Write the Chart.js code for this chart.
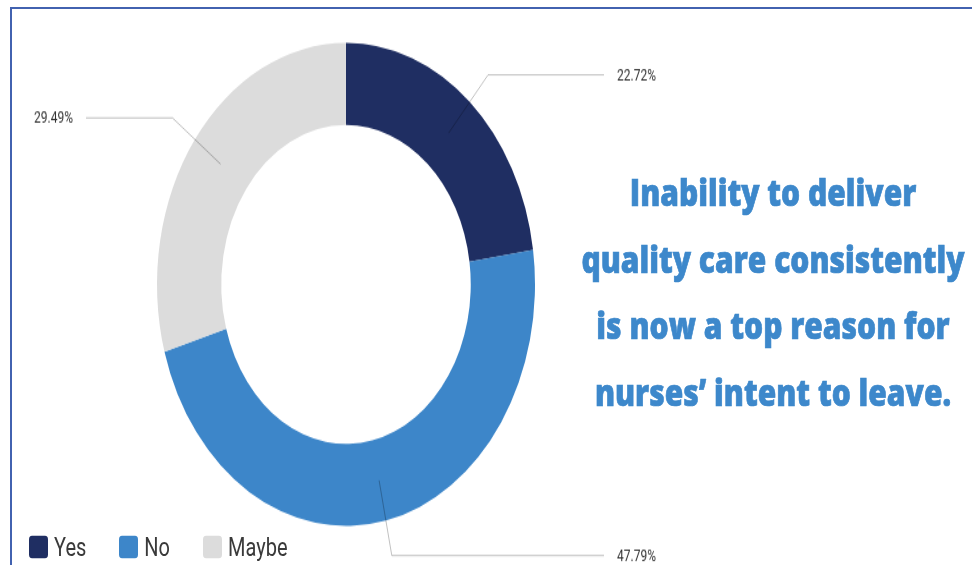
<!DOCTYPE html>
<html>
<head>
<meta charset="utf-8">
<script src="https://cdn.jsdelivr.net/npm/chart.js@4"></script>
<style>
  html, body { margin: 0; padding: 0; background: #fff; }
  body { width: 972px; height: 565px; position: relative; overflow: hidden; font-family: Roboto, sans-serif; }
  #frame { position: absolute; left: 10px; top: 7px; width: 970px; height: 570px;
           border-top: 2px solid #4262b0; border-left: 2px solid #4262b0; }
  #chartBox { position: absolute; left: 0; top: 0; width: 972px; height: 442px;
              transform: scaleY(1.278); transform-origin: 0 0; }
  #legend { position: absolute; left: 29px; top: 536px; height: 22px; display: flex; align-items: center;
            transform: scaleY(1.25); transform-origin: 0 50%; }
  .item { display: flex; align-items: center; margin-right: 33px; font-size: 20px; color: #3a3a3a; }
  .box { width: 19px; height: 18px; border-radius: 3px; margin-right: 6px; }
  #note { position: absolute; left: 573px; top: 159px; width: 400px; text-align: center;
          font-family: "Open Sans", sans-serif; font-weight: 800; font-size: 30px; line-height: 53.6px;
          color: #3d88cb; -webkit-text-stroke: 0.6px #3d88cb;
          transform: scaleY(1.24); transform-origin: 0 0; }
</style>
</head>
<body>
<div id="frame"></div>
<div id="chartBox"><canvas id="myChart"></canvas></div>
<div id="legend"></div>
<div id="note"></div>
<script>
    const labels = ['Yes', 'No', 'Maybe'];
    const shares = [22.72, 47.79, 29.49];
    const colors = ['#1f2e62', '#3d86c9', '#dcdcdc'];
    const noteLines = ['Inability to deliver', 'quality care consistently', 'is now a top reason for', 'nurses\u2019 intent to leave.'];

    // leader lines + percentage labels
    const calloutPlugin = {
        id: 'callouts',
        afterDatasetsDraw(chart) {
            const ctx = chart.ctx;
            const meta = chart.getDatasetMeta(0);
            ctx.save();
            meta.data.forEach((arc, i) => {
                const mid = (arc.startAngle + arc.endAngle) / 2;
                const r0 = (arc.innerRadius + arc.outerRadius) / 2;
                const r1 = arc.outerRadius + 28;
                const x0 = arc.x + Math.cos(mid) * r0, y0 = arc.y + Math.sin(mid) * r0;
                const x1 = arc.x + Math.cos(mid) * r1, y1 = arc.y + Math.sin(mid) * r1;
                const right = Math.cos(mid) >= 0;
                const x2 = right ? 604 : 86;
                ctx.strokeStyle = 'rgba(0,0,0,0.25)';
                ctx.lineWidth = 1;
                ctx.beginPath();
                ctx.moveTo(x0, y0);
                ctx.lineTo(x1, y1);
                ctx.lineTo(x2, y1);
                ctx.stroke();
                ctx.fillStyle = '#333';
                ctx.font = '12px Roboto';
                ctx.textBaseline = 'middle';
                ctx.textAlign = right ? 'left' : 'right';
                ctx.fillText(shares[i].toFixed(2) + '%', right ? x2 + 13 : x2 - 13, y1 + 1);
            });
            ctx.restore();
        }
    };

    var ctx = document.getElementById('myChart').getContext('2d');
    var donutChart = new Chart(ctx, {
        type: 'doughnut',
        data: {
            labels: labels,
            datasets: [{
                data: shares,
                backgroundColor: colors,
                borderWidth: 0,
            }]
        },
        options: {
            responsive: true,
            maintainAspectRatio: false,
            animation: false,
            cutout: '66%',
            layout: {
                padding: { left: 157, right: 437, top: 33.6, bottom: 30.4 }
            },
            plugins: {
                legend: { display: false },
                tooltip: { enabled: false }
            }
        },
        plugins: [calloutPlugin]
    });

    const legendEl = document.getElementById('legend');
    labels.forEach((label, i) => {
        legendEl.innerHTML += '<div class="item"><div class="box" style="background:' + colors[i] + '"></div>' + label + '</div>';
    });
    document.getElementById('note').innerHTML = noteLines.join('<br>');
</script>
</body>
</html>
